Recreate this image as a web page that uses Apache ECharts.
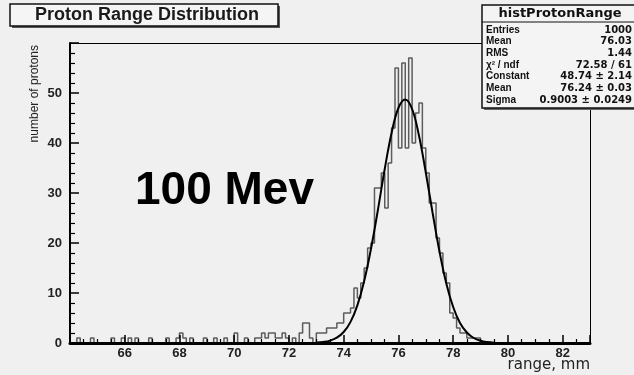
<!DOCTYPE html>
<html><head><meta charset="utf-8">
<script src="https://cdn.jsdelivr.net/npm/echarts@6/dist/echarts.min.js"></script>
<style>html,body{margin:0;padding:0;background:#f0f0f0}#c{width:634px;height:375px}</style>
</head><body><div id="c"></div>
<script>
// histogram binning (mm)
const binLow = 64;
const binWidth = 0.125;
// counts per bin, 8 bins per mm, 64 -> 83 mm
const counts = [
  0,0,1,0,0,0,1,0,
  0,0,0,0,1,0,0,1,
  0,1,0,1,0,0,0,1,
  0,0,0,0,1,0,0,1,
  2,1,0,1,0,0,0,1,
  0,0,1,0,0,1,0,0,
  2,0,0,1,0,0,1,1,
  2,1,2,2,1,1,2,1,
  0,1,0,2,4,4,1,0,
  2,2,2,3,3,3,4,4,
  6,6,7,11,9,12,15,19,
  20,31,31,34,27,36,43,55,
  39,56,39,57,40,46,48,39,
  34,28,28,21,18,14,12,6,
  5,3,2,2,1,1,1,1,
  0,0,0,0,0,0,0,0,
  0,0,0,0,0,0,0,0,
  0,0,0,0,0,0,0,0,
  0,0,0,0,0,0,0,0
];
// gaussian fit curve
const fitX = [73, 73.25, 73.5, 73.75, 74, 74.25, 74.5, 74.75, 75, 75.25, 75.5, 75.75, 76, 76.25, 76.5, 76.75, 77, 77.25, 77.5, 77.75, 78, 78.25, 78.5, 78.75, 79, 79.25, 79.5];
const fitY = [0.08, 0.2, 0.47, 1.06, 2.2, 4.23, 7.53, 12.4, 18.9, 26.6, 34.8, 42.0, 47.0, 48.7, 46.8, 41.5, 34.1, 26.0, 18.3, 11.9, 7.2, 4.0, 2.1, 1.0, 0.44, 0.18, 0.07];
// stats box
const statLabels = ['Entries', 'Mean', 'RMS', 'χ² / ndf', 'Constant', 'Mean', 'Sigma'];
const statValues = ['1000', '76.03', '1.44', '72.58 / 61', '48.74 ± 2.14', '76.24 ± 0.03', '0.9003 ± 0.0249'];

const histData = counts.map((c, i) => [binLow + i * binWidth, c]);
histData.push([binLow + counts.length * binWidth, counts[counts.length - 1]]);
const fitData = fitX.map((x, i) => [x, fitY[i]]);

const chart = echarts.init(document.getElementById('c'), null, {renderer: 'canvas'});

const graphics = [
  {type: 'rect', z: 100, shape: {x: 12, y: 6, width: 268, height: 22}, style: {fill: '#555'}},
  {type: 'rect', z: 101, shape: {x: 10, y: 4, width: 268, height: 22}, style: {fill: '#f5f5f5', stroke: '#111', lineWidth: 1.5}},
  {type: 'text', z: 102, x: 147, y: 15.5, style: {text: 'Proton Range Distribution', fontSize: 18, fontWeight: 'bold', fontFamily: 'Liberation Sans', fill: '#1a1a1a', align: 'center', verticalAlign: 'middle'}},
  {type: 'rect', z: 100, shape: {x: 484, y: 7, width: 160, height: 103}, style: {fill: '#666'}},
  {type: 'rect', z: 101, shape: {x: 482, y: 5, width: 160, height: 103}, style: {fill: '#f4f4f4', stroke: '#111', lineWidth: 1.5}},
  {type: 'line', z: 102, shape: {x1: 482, y1: 22, x2: 634, y2: 22}, style: {stroke: '#111', lineWidth: 1}},
  {type: 'text', z: 102, x: 560, y: 14, style: {text: 'histProtonRange', fontSize: 13, fontWeight: 'bold', fontFamily: 'DejaVu Sans', fill: '#111', align: 'center', verticalAlign: 'middle'}},
  {type: 'text', z: 102, x: 135, y: 191, style: {text: '100 Mev', fontSize: 46, fontWeight: 'bold', fontFamily: 'Liberation Sans', fill: '#000', align: 'left', verticalAlign: 'middle'}},
  {type: 'text', z: 102, x: 590, y: 365, style: {text: 'range, mm', fontSize: 15, fontFamily: 'DejaVu Sans', fill: '#222', align: 'right', verticalAlign: 'middle'}},
  {type: 'text', z: 102, x: 35, y: 45, rotation: Math.PI / 2, style: {text: 'number of protons', fontSize: 12, fontFamily: 'Liberation Sans', fill: '#222', align: 'right', verticalAlign: 'middle'}}
];
const rowY = [30, 41.7, 53.3, 65, 76.7, 88.3, 100];
statLabels.forEach((t, i) => {
  graphics.push({type: 'text', z: 102, x: 486, y: rowY[i], style: {text: t, fontSize: 10, fontWeight: 'bold', fontFamily: 'Liberation Sans', fill: '#111', align: 'left', verticalAlign: 'middle'}});
  graphics.push({type: 'text', z: 102, x: 632, y: rowY[i], style: {text: statValues[i], fontSize: 10, fontWeight: 'bold', fontFamily: 'DejaVu Sans', fill: '#111', align: 'right', verticalAlign: 'middle'}});
});

const labelStyle = {fontFamily: 'Liberation Sans', fontWeight: 'bold', fontSize: 13, color: '#222'};

chart.setOption({
  backgroundColor: '#f0f0f0',
  animation: false,
  grid: {left: 70, right: 44, top: 43, bottom: 32},
  xAxis: [{
    type: 'value', min: 64, max: 83, interval: 2, z: 5,
    axisLine: {show: true, onZero: false, lineStyle: {color: '#000', width: 3}},
    axisTick: {show: true, inside: true, length: 8, lineStyle: {color: '#000', width: 1.5}},
    minorTick: {show: true, splitNumber: 4, length: 4, lineStyle: {color: '#000', width: 1.2}},
    axisLabel: Object.assign({showMinLabel: false, showMaxLabel: false, margin: 4}, labelStyle),
    splitLine: {show: false}
  }, {
    type: 'value', position: 'top', min: 64, max: 83, interval: 2, z: 5,
    axisLine: {show: true, onZero: false, lineStyle: {color: '#000', width: 1}},
    axisTick: {show: false}, axisLabel: {show: false}, splitLine: {show: false}
  }],
  yAxis: [{
    type: 'value', min: 0, max: 60, interval: 10, z: 5,
    axisLine: {show: true, onZero: false, lineStyle: {color: '#000', width: 2}},
    axisTick: {show: true, inside: true, length: 9, lineStyle: {color: '#000', width: 1.5}},
    minorTick: {show: true, splitNumber: 5, length: 5, lineStyle: {color: '#000', width: 1.2}},
    axisLabel: Object.assign({showMaxLabel: false, margin: 8}, labelStyle),
    splitLine: {show: false}
  }, {
    type: 'value', position: 'right', min: 0, max: 60, interval: 10, z: 5,
    axisLine: {show: true, onZero: false, lineStyle: {color: '#000', width: 1}},
    axisTick: {show: false}, axisLabel: {show: false}, splitLine: {show: false}
  }],
  series: [{
    type: 'line', step: 'end', data: histData, xAxisIndex: 0, yAxisIndex: 0,
    showSymbol: false, symbol: 'none', z: 2,
    lineStyle: {color: '#5c5c5c', width: 1.5}
  }, {
    type: 'line', smooth: 0.4, data: fitData, xAxisIndex: 0, yAxisIndex: 0,
    showSymbol: false, symbol: 'none', z: 3,
    lineStyle: {color: '#000', width: 2}
  }],
  graphic: graphics
});
</script>
</body></html>
